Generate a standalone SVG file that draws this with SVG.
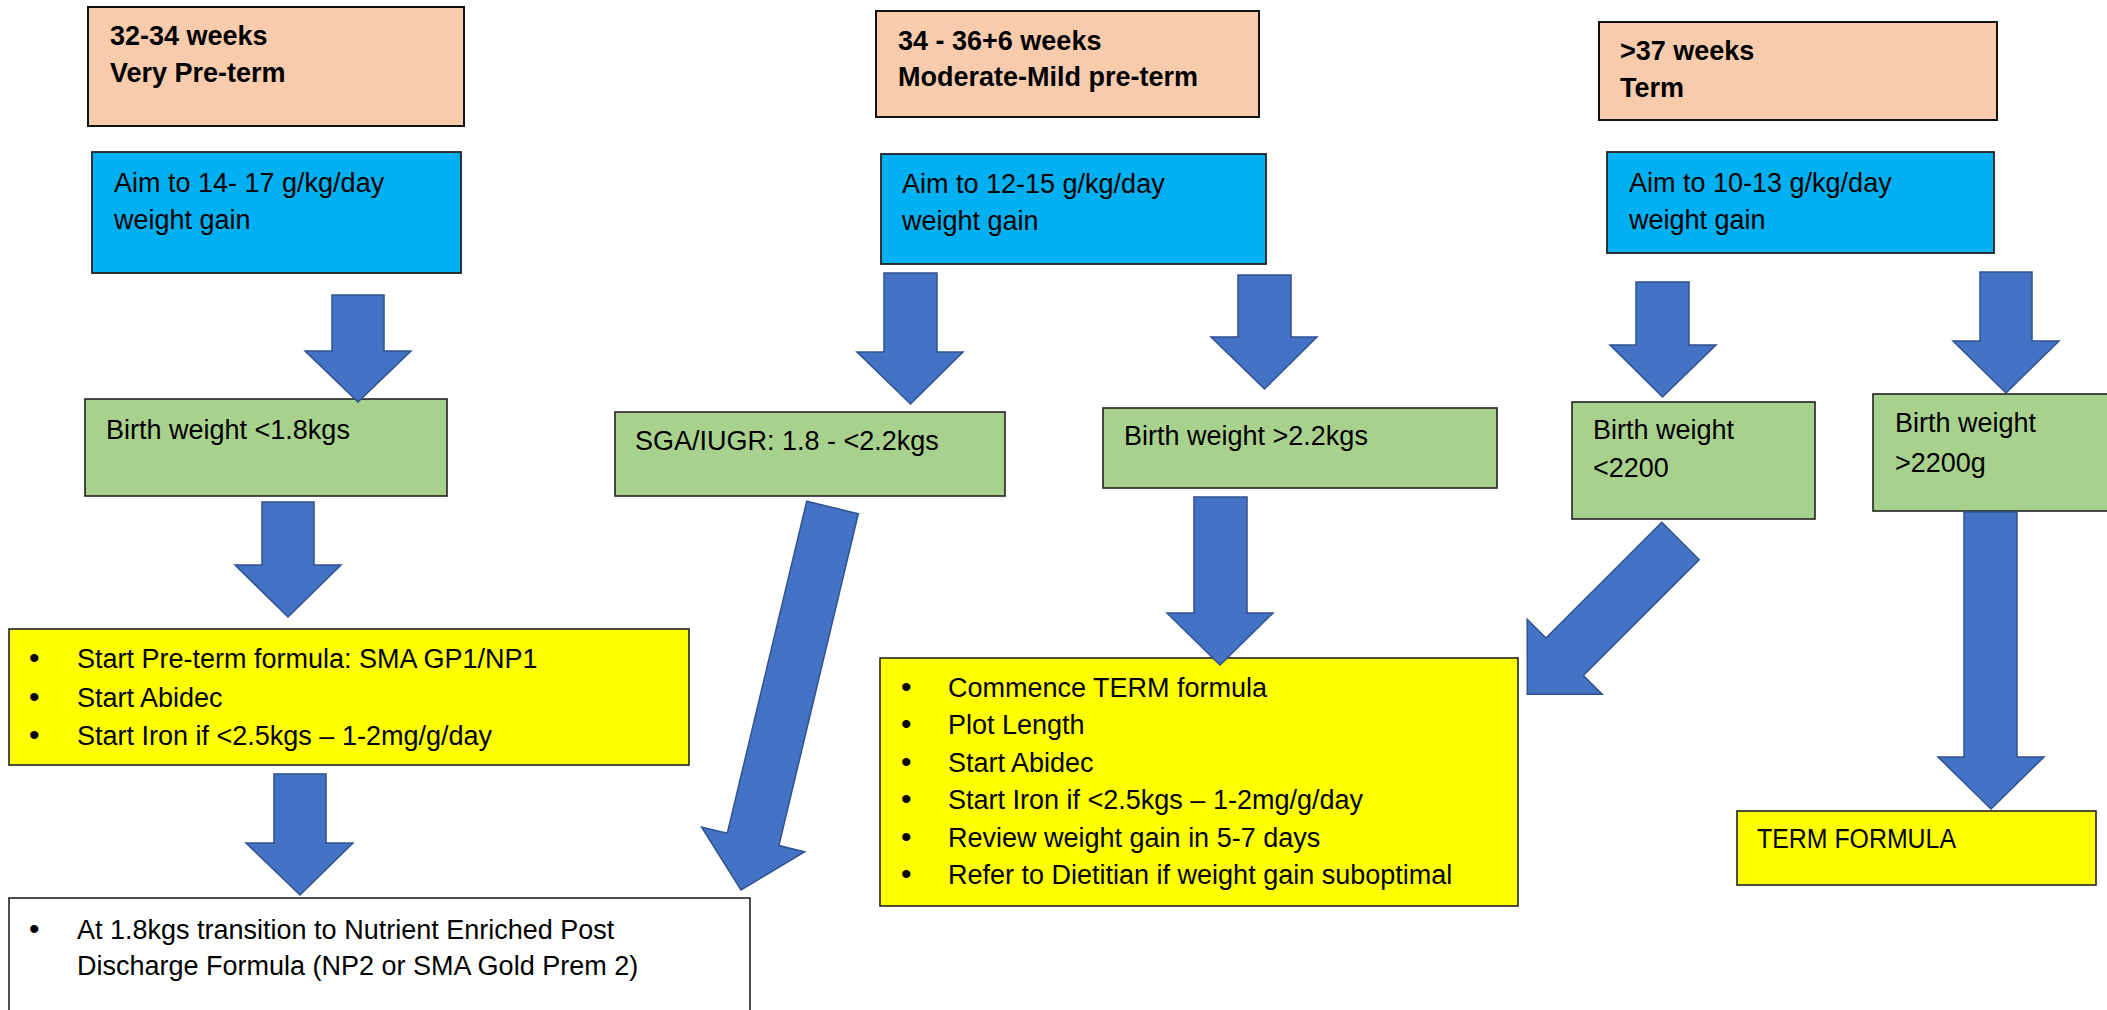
<svg xmlns="http://www.w3.org/2000/svg" width="2107" height="1010" viewBox="0 0 2107 1010">
<style>
  .bg { fill: #ffffff; }
  .peach { fill: #F8CBAD; stroke: #111111; stroke-width: 2; }
  .blue { fill: #00B0F0; stroke: #222222; stroke-width: 1.8; }
  .green { fill: #A9D18E; stroke: #222222; stroke-width: 1.6; }
  .yellow { fill: #FFFF00; stroke: #222222; stroke-width: 1.6; }
  .white { fill: #FFFFFF; stroke: #222222; stroke-width: 1.6; }
  .arrow { fill: #4472C4; stroke: #2F528F; stroke-width: 1.5; stroke-linejoin: miter; }
  text { font-family: "Liberation Sans", Arial, sans-serif; fill: #000000; }
  .t { font-size: 27px; }
  .h { font-size: 27px; font-weight: bold; }
  .b { font-size: 30px; }
</style>
<rect class="bg" x="0" y="0" width="2107" height="1010"/>

<g id="node-very-preterm">
  <rect class="peach" x="88" y="7" width="376" height="119"/>
  <text class="h" x="110" y="45">32-34 weeks</text>
  <text class="h" x="110" y="82">Very Pre-term</text>
</g>
<g id="node-moderate-preterm">
  <rect class="peach" x="876" y="11" width="383" height="106"/>
  <text class="h" x="898" y="50">34 - 36+6 weeks</text>
  <text class="h" x="898" y="86">Moderate-Mild pre-term</text>
</g>
<g id="node-term">
  <rect class="peach" x="1599" y="22" width="398" height="98"/>
  <text class="h" x="1620" y="60">&gt;37 weeks</text>
  <text class="h" x="1620" y="97">Term</text>
</g>

<g id="node-aim-14-17">
  <rect class="blue" x="92" y="152" width="369" height="121"/>
  <text class="t" x="114" y="192">Aim to 14- 17 g/kg/day</text>
  <text class="t" x="114" y="229">weight gain</text>
</g>
<g id="node-aim-12-15">
  <rect class="blue" x="881" y="154" width="385" height="110"/>
  <text class="t" x="902" y="193">Aim to 12-15 g/kg/day</text>
  <text class="t" x="902" y="230">weight gain</text>
</g>
<g id="node-aim-10-13">
  <rect class="blue" x="1607" y="152" width="387" height="101"/>
  <text class="t" x="1629" y="192">Aim to 10-13 g/kg/day</text>
  <text class="t" x="1629" y="229">weight gain</text>
</g>

<g id="node-bw-lt-1-8">
  <rect class="green" x="85" y="399" width="362" height="97"/>
  <text class="t" x="106" y="439">Birth weight &lt;1.8kgs</text>
</g>
<g id="node-sga-iugr">
  <rect class="green" x="615" y="412" width="390" height="84"/>
  <text class="t" x="635" y="450">SGA/IUGR: 1.8 - &lt;2.2kgs</text>
</g>
<g id="node-bw-gt-2-2">
  <rect class="green" x="1103" y="408" width="394" height="80"/>
  <text class="t" x="1124" y="445">Birth weight &gt;2.2kgs</text>
</g>
<g id="node-bw-lt-2200">
  <rect class="green" x="1572" y="402" width="243" height="117"/>
  <text class="t" x="1593" y="439">Birth weight</text>
  <text class="t" x="1593" y="477">&lt;2200</text>
</g>
<g id="node-bw-gt-2200">
  <rect class="green" x="1873" y="394" width="250" height="117"/>
  <text class="t" x="1895" y="432">Birth weight</text>
  <text class="t" x="1895" y="472">&gt;2200g</text>
</g>

<g id="node-preterm-formula">
  <rect class="yellow" x="9" y="629" width="680" height="136"/>
  <text class="b" x="29" y="668">•</text>
  <text class="t" x="77" y="668">Start Pre-term formula: SMA GP1/NP1</text>
  <text class="b" x="29" y="707">•</text>
  <text class="t" x="77" y="707">Start Abidec</text>
  <text class="b" x="29" y="745">•</text>
  <text class="t" x="77" y="745">Start Iron if &lt;2.5kgs – 1-2mg/g/day</text>
</g>
<g id="node-term-formula-plan">
  <rect class="yellow" x="880" y="658" width="638" height="248"/>
  <text class="b" x="901" y="697">•</text>
  <text class="t" x="948" y="697">Commence TERM formula</text>
  <text class="b" x="901" y="734">•</text>
  <text class="t" x="948" y="734">Plot Length</text>
  <text class="b" x="901" y="772">•</text>
  <text class="t" x="948" y="772">Start Abidec</text>
  <text class="b" x="901" y="809">•</text>
  <text class="t" x="948" y="809">Start Iron if &lt;2.5kgs – 1-2mg/g/day</text>
  <text class="b" x="901" y="847">•</text>
  <text class="t" x="948" y="847">Review weight gain in 5-7 days</text>
  <text class="b" x="901" y="884">•</text>
  <text class="t" x="948" y="884">Refer to Dietitian if weight gain suboptimal</text>
</g>
<g id="node-term-formula">
  <rect class="yellow" x="1737" y="811" width="359" height="74"/>
  <text class="t" x="1757" y="848" textLength="199" lengthAdjust="spacingAndGlyphs">TERM FORMULA</text>
</g>
<g id="node-post-discharge">
  <rect class="white" x="9" y="898" width="741" height="130"/>
  <text class="b" x="29" y="939">•</text>
  <text class="t" x="77" y="939">At 1.8kgs transition to Nutrient Enriched Post</text>
  <text class="t" x="77" y="975">Discharge Formula (NP2 or SMA Gold Prem 2)</text>
</g>

<g id="connectors">
  <polygon class="arrow" points="332,295 384,295 384,351 411,351 358,402 305,351 332,351"/>
  <polygon class="arrow" points="884,273 937,273 937,352 963,352 910.5,404 857,352 884,352"/>
  <polygon class="arrow" points="1238,275 1291,275 1291,337 1317,337 1264.5,389 1211,337 1238,337"/>
  <polygon class="arrow" points="1636,282 1689,282 1689,345 1716,345 1662.5,397 1610,345 1636,345"/>
  <polygon class="arrow" points="1980,272 2032,272 2032,341 2059,341 2006,393 1953,341 1980,341"/>
  <polygon class="arrow" points="262,502 314,502 314,565 341,565 288,617 235,565 262,565"/>
  <polygon class="arrow" points="274,774 326,774 326,843 353,843 300,895 246,843 274,843"/>
  <polygon class="arrow" points="1194,497 1247,497 1247,613 1273,613 1220,665 1167,613 1194,613"/>
  <polygon class="arrow" points="1964,512 2017,512 2017,757 2044,757 1991,809 1938,757 1964,757"/>
  <polygon class="arrow" points="806.7,501.3 858.3,513.7 778.9,845.6 804.6,851.7 741,890 701.6,827.1 727.3,833.2"/>
  <polygon class="arrow" points="1661.8,522.3 1699.2,559.7 1583.4,675.5 1602.2,694.3 1527.3,694.2 1527.2,619.3 1546,638"/>
</g>
</svg>
